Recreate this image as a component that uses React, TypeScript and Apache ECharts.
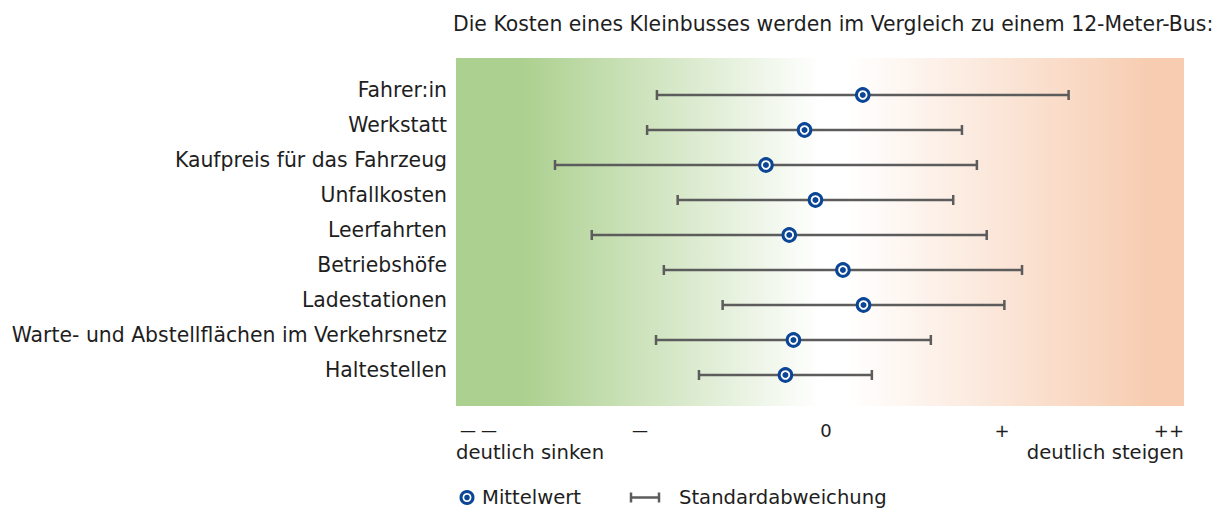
import React, { useEffect, useRef } from "react";
import * as echarts from "echarts";

const titleText = "Die Kosten eines Kleinbusses werden im Vergleich zu einem 12-Meter-Bus:";
const categories = [
  "Fahrer:in",
  "Werkstatt",
  "Kaufpreis für das Fahrzeug",
  "Unfallkosten",
  "Leerfahrten",
  "Betriebshöfe",
  "Ladestationen",
  "Warte- und Abstellflächen im Verkehrsnetz",
  "Haltestellen",
];
const means = [0.235, -0.085, -0.297, -0.025, -0.169, 0.126, 0.239, -0.146, -0.19];
const stdDevs = [1.131, 0.865, 1.159, 0.757, 1.085, 0.984, 0.774, 0.755, 0.475];
const tickValues = [-2, -1, 0, 1, 2];
const tickLabels = ["— —", "—", "0", "+", "++"];
const edgeLabels = ["deutlich sinken", "deutlich steigen"];
const legendLabels = ["Mittelwert", "Standardabweichung"];

const FONT = "'DejaVu Sans', sans-serif";
const TEXT = "#1e1e1e";
const BLUE = "#0b4596";
const BAR = "#5c5c5c";

export default function App() {
  const ref = useRef<HTMLDivElement>(null);
  useEffect(() => {
    if (!ref.current) return;
    const chart = echarts.init(ref.current, null, { renderer: "svg" });

    const barData = categories.map((c, i) => [i, means[i], stdDevs[i]]);
    const pointData = categories.map((c, i) => [means[i], i]);

    const option: any = {
      animation: false,
      textStyle: { fontFamily: FONT },
      grid: { left: 456, right: 42, top: 77.5, bottom: 116.5, containLabel: false },
      xAxis: {
        type: "value",
        min: tickValues[0],
        max: tickValues[tickValues.length - 1],
        interval: 1,
        axisLine: { show: false },
        axisTick: { show: false },
        splitLine: { show: false },
        axisLabel: {
          margin: 26.5,
          color: TEXT,
          fontSize: 18,
          fontFamily: FONT,
          lineHeight: 22,
          alignMinLabel: "left",
          alignMaxLabel: "right",
          rich: {
            d: { fontSize: 16, lineHeight: 22, color: TEXT, fontFamily: FONT, padding: [0, 0, 0, 4] },
            z: { fontSize: 18, lineHeight: 22, color: TEXT, fontFamily: FONT, padding: [0, 0, 0, 12] },
            p: { fontSize: 18, lineHeight: 22, color: TEXT, fontFamily: FONT },
            e: { fontSize: 19.6, lineHeight: 22, color: TEXT, fontFamily: FONT },
          },
          formatter: (v: number) => {
            const i = tickValues.indexOf(Math.round(v));
            if (i < 0) return "";
            const lab = tickLabels[i];
            let s = lab.indexOf("—") >= 0 ? `{d|${lab}}` : lab === "0" ? `{z|${lab}}` : `{p|${lab}}`;
            if (i === 0) s += `\n{e|${edgeLabels[0]}}`;
            if (i === tickValues.length - 1) s += `\n{e|${edgeLabels[1]}}`;
            return s;
          },
        },
      },
      yAxis: {
        type: "category",
        data: categories,
        inverse: true,
        axisLine: { show: false },
        axisTick: { show: false },
        splitLine: { show: false },
        axisLabel: {
          margin: 9,
          color: TEXT,
          fontSize: 20.4,
          fontFamily: FONT,
          formatter: (v: string) => `{c|${v}}`,
          rich: { c: { fontSize: 20.4, color: TEXT, fontFamily: FONT, padding: [0, 0, 10, 0] } },
        },
      },
      graphic: [
        {
          type: "rect",
          z: -10,
          silent: true,
          shape: { x: 456, y: 58, width: 728, height: 348 },
          style: {
            fill: new echarts.graphic.LinearGradient(0, 0, 1, 0, [
              { offset: 0, color: "#acd08f" },
              { offset: 0.09, color: "#acd08f" },
              { offset: 0.5, color: "#ffffff" },
              { offset: 0.54, color: "#ffffff" },
              { offset: 0.96, color: "#f7ccb0" },
              { offset: 1, color: "#f7ccb0" },
            ]),
          },
        },
        {
          type: "text",
          x: 453,
          y: 24,
          style: { text: titleText, fill: TEXT, font: `20.4px ${FONT}`, verticalAlign: "middle", align: "left" },
        },
        { type: "circle", shape: { cx: 467, cy: 497.5, r: 6 }, style: { fill: "#fff", stroke: BLUE, lineWidth: 3 } },
        { type: "circle", shape: { cx: 467, cy: 497.5, r: 2.8 }, style: { fill: BLUE } },
        {
          type: "text",
          x: 482,
          y: 497,
          style: { text: legendLabels[0], fill: TEXT, font: `19.6px ${FONT}`, verticalAlign: "middle" },
        },
        { type: "line", shape: { x1: 631, y1: 497.5, x2: 659, y2: 497.5 }, style: { stroke: BAR, lineWidth: 2.5 } },
        { type: "line", shape: { x1: 631, y1: 492.5, x2: 631, y2: 502.5 }, style: { stroke: BAR, lineWidth: 2.5 } },
        { type: "line", shape: { x1: 659, y1: 492.5, x2: 659, y2: 502.5 }, style: { stroke: BAR, lineWidth: 2.5 } },
        {
          type: "text",
          x: 679,
          y: 497,
          style: { text: legendLabels[1], fill: TEXT, font: `19.6px ${FONT}`, verticalAlign: "middle" },
        },
      ],
      series: [
        {
          name: legendLabels[1],
          type: "custom",
          data: barData,
          encode: { x: [1], y: 0 },
          z: 2,
          renderItem: (params: any, api: any) => {
            const idx = api.value(0);
            const m = api.value(1);
            const sd = api.value(2);
            const p1 = api.coord([m - sd, idx]);
            const p2 = api.coord([m + sd, idx]);
            const y = p1[1];
            const st = { stroke: BAR, lineWidth: 2.5 };
            return {
              type: "group",
              children: [
                { type: "line", shape: { x1: p1[0], y1: y, x2: p2[0], y2: y }, style: st },
                { type: "line", shape: { x1: p1[0], y1: y - 5, x2: p1[0], y2: y + 5 }, style: st },
                { type: "line", shape: { x1: p2[0], y1: y - 5, x2: p2[0], y2: y + 5 }, style: st },
              ],
            };
          },
        },
        {
          name: legendLabels[0],
          type: "custom",
          data: pointData,
          encode: { x: 0, y: 1 },
          z: 3,
          renderItem: (params: any, api: any) => {
            const p = api.coord([api.value(0), api.value(1)]);
            return {
              type: "group",
              children: [
                { type: "circle", shape: { cx: p[0], cy: p[1], r: 6.3 }, style: { fill: "#fff", stroke: BLUE, lineWidth: 3 } },
                { type: "circle", shape: { cx: p[0], cy: p[1], r: 3 }, style: { fill: BLUE } },
              ],
            };
          },
        },
      ],
    };
    chart.setOption(option);
    return () => chart.dispose();
  }, []);
  return <div ref={ref} style={{ position: "absolute", left: 0, top: 0, width: 1226, height: 509 }} />;
}
